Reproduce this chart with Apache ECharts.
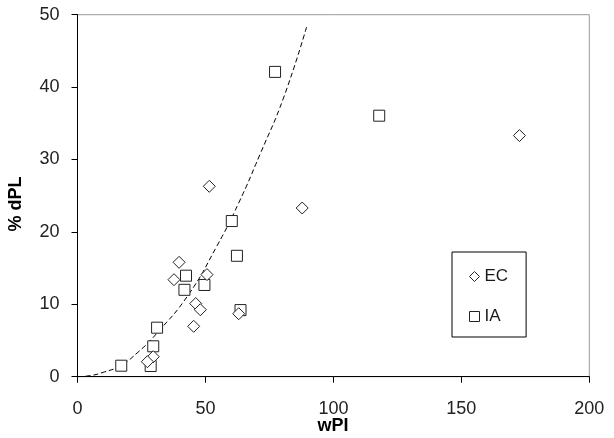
<!DOCTYPE html>
<html>
<head>
<meta charset="utf-8">
<script src="https://cdn.jsdelivr.net/npm/echarts@6/dist/echarts.min.js"></script>
<style>
html,body{margin:0;padding:0;background:#fff;}
#chart{width:614px;height:438px;}
</style>
</head>
<body>
<div id="chart"></div>
<script>
// EC series (diamonds): [wPI, %dPL]
const ecWPI = [39.7, 37.7, 50.6, 46.2, 48.0, 45.4, 63.0, 29.6, 27.3, 51.5, 87.8, 172.7];
const ecDPL = [15.8, 13.4, 14.1, 10.1, 9.25, 6.96, 8.7, 2.76, 2.07, 26.3, 23.3, 33.3];
// IA series (squares)
const iaWPI = [77.2, 117.9, 60.3, 62.3, 42.4, 41.8, 49.6, 63.7, 31.1, 29.6, 17.1, 28.6];
const iaDPL = [42.1, 36.05, 21.5, 16.7, 13.95, 12.0, 12.67, 9.2, 6.77, 4.2, 1.52, 1.48];
// Dashed trend curve points
const curveWPI = [0, 5, 10, 16.6, 24, 31, 43.3, 54.4, 63, 71.3, 80.5, 89.6];
const curveDPL = [0, 0.15, 0.6, 1.5, 3.5, 6.0, 11.3, 18.0, 24.0, 30.7, 38.5, 48.4];
const xTicks = [0, 50, 100, 150, 200];
const yTicks = [0, 10, 20, 30, 40, 50];

const zip = (a, b) => a.map((v, i) => [v, b[i]]);
const FONT = 'Liberation Sans, Arial, sans-serif';

const chart = echarts.init(document.getElementById('chart'), null, {renderer: 'canvas'});
chart.setOption({
  animation: false,
  backgroundColor: '#fff',
  grid: {
    left: 77.5, right: 24.7, top: 14.7, bottom: 61.3,
    show: true, borderColor: '#999', borderWidth: 1, backgroundColor: 'transparent'
  },
  xAxis: {
    type: 'value', min: xTicks[0], max: xTicks[xTicks.length - 1], interval: 50,
    axisLine: {show: true, onZero: false, lineStyle: {color: '#000', width: 1}},
    axisTick: {show: true, inside: false, length: 6, lineStyle: {color: '#000'}},
    axisLabel: {color: '#222', fontSize: 18, fontFamily: FONT, margin: 23},
    splitLine: {show: false}
  },
  yAxis: {
    type: 'value', min: yTicks[0], max: yTicks[yTicks.length - 1], interval: 10,
    axisLine: {show: true, onZero: false, lineStyle: {color: '#000', width: 1}},
    axisTick: {show: true, inside: false, length: 6, lineStyle: {color: '#000'}},
    axisLabel: {color: '#222', fontSize: 18, fontFamily: FONT, margin: 18},
    splitLine: {show: false}
  },
  legend: {
    data: ['EC', 'IA'],
    orient: 'vertical',
    left: 452, top: 252,
    width: 74,
    padding: [16, 18, 12, 17],
    itemGap: 23,
    itemWidth: 10, itemHeight: 10,
    itemStyle: {color: '#fff', borderColor: '#222', borderWidth: 1},
    borderColor: '#000', borderWidth: 1,
    backgroundColor: '#fff',
    textStyle: {fontSize: 17, fontFamily: FONT, color: '#1a1a1a'}
  },
  graphic: [
    {
      type: 'text', x: 333, y: 426,
      style: {text: 'wPI', font: 'bold 18px ' + FONT, fill: '#000', textAlign: 'center', textVerticalAlign: 'middle'}
    },
    {
      type: 'text', x: 16, y: 204, rotation: Math.PI / 2,
      style: {text: '% dPL', font: 'bold 18px ' + FONT, fill: '#000', textAlign: 'center', textVerticalAlign: 'middle'}
    }
  ],
  series: [
    {
      name: 'trend', type: 'line', data: zip(curveWPI, curveDPL), smooth: true,
      showSymbol: false, symbol: 'none', silent: true, z: 1,
      lineStyle: {color: '#000', width: 1, type: [5, 3]}
    },
    {
      name: 'IA', type: 'scatter', data: zip(iaWPI, iaDPL), symbol: 'rect', symbolSize: 11, z: 3,
      itemStyle: {color: '#fff', opacity: 1, borderColor: '#222', borderWidth: 1}
    },
    {
      name: 'EC', type: 'scatter', data: zip(ecWPI, ecDPL), symbol: 'diamond', symbolSize: 12, z: 4,
      itemStyle: {color: '#fff', opacity: 1, borderColor: '#222', borderWidth: 1}
    }
  ]
});
</script>
</body>
</html>
